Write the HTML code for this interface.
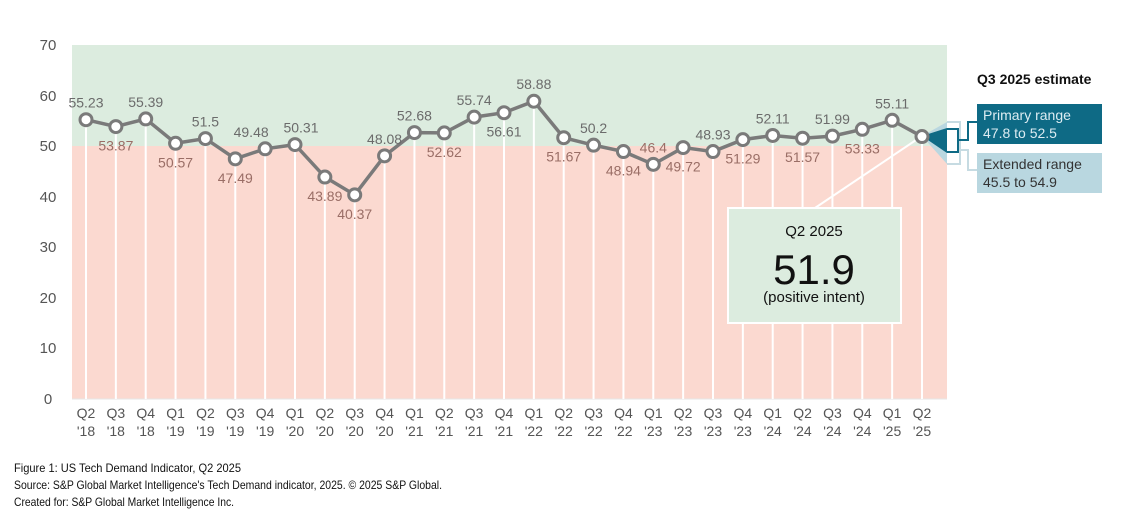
<!DOCTYPE html>
<html><head><meta charset="utf-8"><style>
html,body{margin:0;padding:0;background:#fff;width:1132px;height:531px;overflow:hidden}
svg{display:block;font-family:"Liberation Sans",sans-serif}
</style></head><body>
<svg id="s" width="1132" height="531" viewBox="0 0 1132 531" xmlns="http://www.w3.org/2000/svg">
<rect x="72" y="45" width="875" height="101" fill="#dcecdf"/>
<rect x="72" y="146" width="875" height="253" fill="#fbd9d0"/>
<line x1="72" y1="399" x2="947" y2="399" fill="none" stroke="#e6e6e6" stroke-width="1"/>
<g font-size="15" fill="#555" text-anchor="middle">
<text x="48" y="50">70</text><text x="48" y="101">60</text><text x="48" y="151">50</text><text x="48" y="202">40</text><text x="48" y="252">30</text><text x="48" y="303">20</text><text x="48" y="353">10</text><text x="48" y="404">0</text>
</g>
<g id="vl" stroke="#fff" stroke-width="2"></g>
<line x1="812" y1="210" x2="922" y2="136" stroke="#fff" stroke-width="2"/>
<rect x="728" y="208" width="173" height="115" fill="#dcecdf" stroke="#fff" stroke-width="2"/>
<text x="814" y="236" font-size="15" text-anchor="middle" fill="#111">Q2 2025</text>
<text x="814" y="284" font-size="42" text-anchor="middle" fill="#111">51.9</text>
<text x="814" y="302" font-size="15" text-anchor="middle" fill="#111">(positive intent)</text>
<polygon points="922,136 947,122 947,164" fill="#b9d7e0"/>
<polygon points="922,136 947,128 947,153" fill="#0e6a85"/>
<path d="M947,122 H960 V164 H947" fill="none" stroke="#c6dbe2" stroke-width="2"/>
<path d="M947,129 H958 V152 H947" fill="none" stroke="#0e6a85" stroke-width="2"/>
<path d="M958,140 H968 V122 H977" fill="none" stroke="#0e6a85" stroke-width="2"/>
<path d="M960,150 H968 V170 H977" fill="none" stroke="#c6dbe2" stroke-width="2"/>
<text x="977" y="84" font-size="14" font-weight="bold" fill="#111">Q3 2025 estimate</text>
<rect x="977" y="104" width="125" height="40" fill="#0e6a85"/>
<text x="983" y="120" font-size="14" fill="#dcecf2">Primary range</text>
<text x="983" y="138" font-size="14" fill="#dcecf2">47.8 to 52.5</text>
<rect x="977" y="153" width="125" height="40" fill="#b9d7e0"/>
<text x="983" y="169" font-size="14" fill="#333">Extended range</text>
<text x="983" y="187" font-size="14" fill="#333">45.5 to 54.9</text>
<g id="dat"></g>
<g font-size="12" fill="#111">
<text x="14" y="472" textLength="227" lengthAdjust="spacingAndGlyphs">Figure 1: US Tech Demand Indicator, Q2 2025</text>
<text x="14" y="489" textLength="428" lengthAdjust="spacingAndGlyphs">Source: S&amp;P Global Market Intelligence's Tech Demand indicator, 2025.  © 2025 S&amp;P Global.</text>
<text x="14" y="506" textLength="220" lengthAdjust="spacingAndGlyphs">Created for: S&amp;P Global Market Intelligence Inc.</text>
</g>
</svg>
<script>
var v=[55.23,53.87,55.39,50.57,51.5,47.49,49.48,50.31,43.89,40.37,48.08,52.68,52.62,55.74,56.61,58.88,51.67,50.2,48.94,46.4,49.72,48.93,51.29,52.11,51.57,51.99,53.33,55.11,51.9];
var up=[1,0,1,0,1,0,1,1,0,0,1,1,0,1,0,1,0,1,0,1,0,1,0,1,0,1,0,1,-1];
var dx={6:-14,7:6};
var q=["Q2","Q3","Q4","Q1"],ns="http://www.w3.org/2000/svg";
var vl=document.getElementById("vl"),d=document.getElementById("dat");
function el(t,a,p,txt){var e=document.createElementNS(ns,t);for(var k in a)e.setAttribute(k,a[k]);if(txt)e.textContent=txt;p.appendChild(e);return e;}
var pts=[];
for(var i=0;i<v.length;i++){
 var x=86+i*29.857,y=399-v[i]*5.057;pts.push(x+","+y);
 el("line",{x1:x,y1:y,x2:x,y2:399},vl);
 var qi=i%4,yr=18+Math.floor((i+1)/4);
 el("text",{x:x,y:418,"font-size":14,fill:"#555","text-anchor":"middle"},d,q[qi]);
 el("text",{x:x,y:436,"font-size":14,fill:"#555","text-anchor":"middle"},d,"'"+yr);
}
el("polyline",{points:pts.join(" "),fill:"none",stroke:"#7a7a7a","stroke-width":3.5},d);
for(var i=0;i<v.length;i++){
 var x=86+i*29.857,y=399-v[i]*5.057;
 el("circle",{cx:x,cy:y,r:6,fill:"#fff",stroke:"#7a7a7a","stroke-width":3},d);
 if(up[i]<0)continue;
 var ty=up[i]?y-12:y+24;
 el("text",{x:x+(dx[i]||0),y:ty,"font-size":14,"text-anchor":"middle",fill:ty<146?"#6b6b6b":"#9a6e66"},d,String(v[i]));
}
</script>
</body></html>
